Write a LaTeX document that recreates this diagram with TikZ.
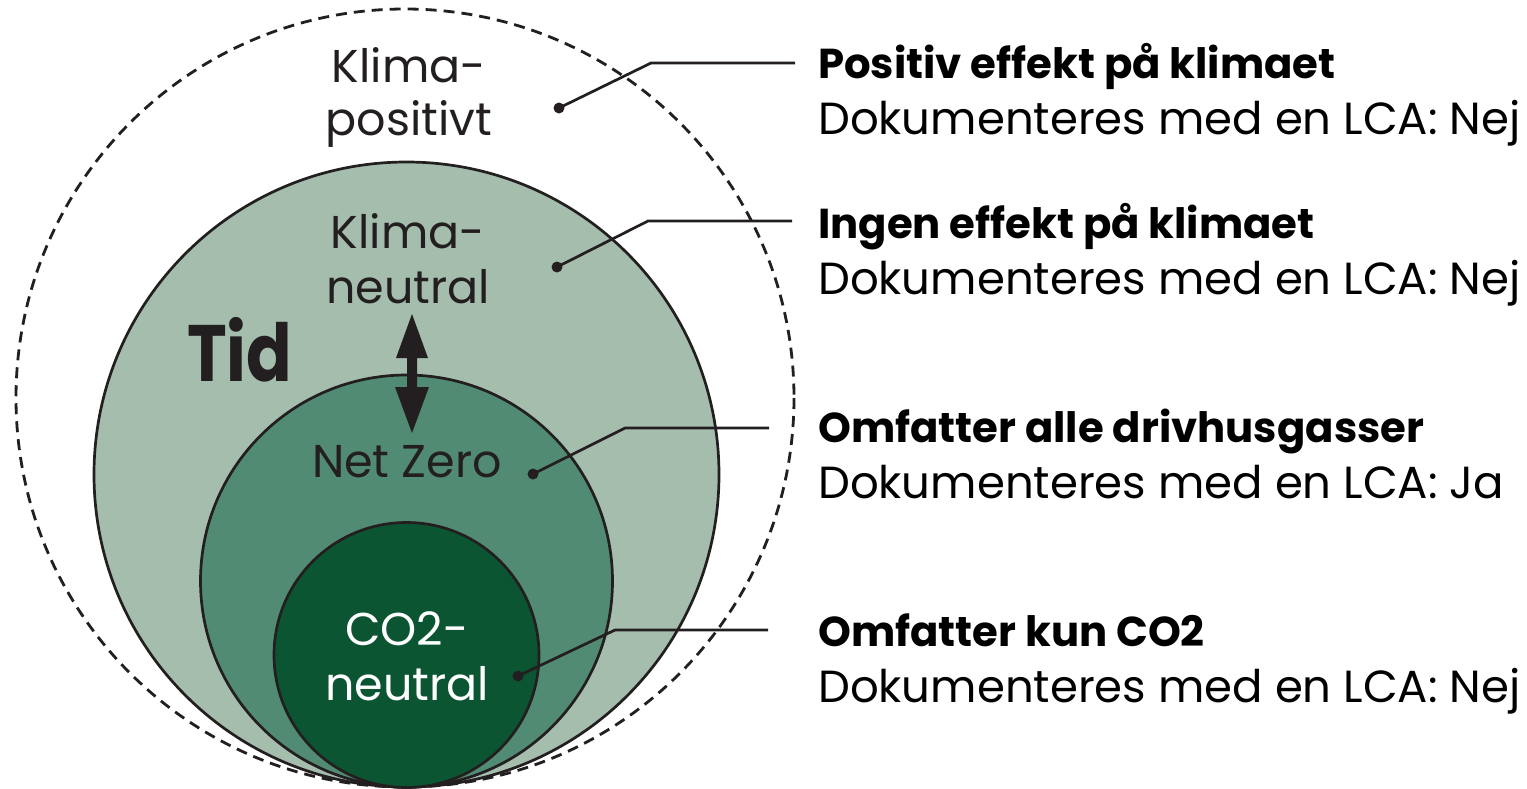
\documentclass[tikz,border=0pt]{standalone}
\usepackage{fontspec}
\setmainfont{Poppins}
\definecolor{ink}{HTML}{231F20}
\definecolor{lightg}{HTML}{A4BDAD}
\definecolor{midg}{HTML}{528B73}
\definecolor{darkg}{HTML}{0C5533}
\tikzset{
  ring/.style={draw=ink, line width=2.7pt},
  lbl/.style={anchor=base, inner sep=0pt, font=\fontsize{46}{54}\selectfont, text=ink},
  head/.style={anchor=base west, inner sep=0pt, font=\fontsize{41.8}{50}\selectfont\bfseries, text=black},
  body/.style={anchor=base west, inner sep=0pt, font=\fontsize{45}{54}\selectfont, text=black},
  leader/.style={draw=ink, line width=2.7pt},
  dotmark/.style={fill=ink}
}
\begin{document}
\begin{tikzpicture}[x=1pt,y=-1pt]
\useasboundingbox (0,0) rectangle (1527,788);
% circles
\draw[ink, line width=2.8pt, dash pattern=on 11pt off 7pt] (405,398) circle[radius=389];
\path[ring, fill=lightg] (406.5,474.5) circle[radius=312.5];
\path[ring, fill=midg] (406.5,581) circle[radius=206];
\path[ring, fill=darkg] (406.5,655) circle[radius=132.5];
% circle labels
\node[lbl] (kp1) at (409,82) {Klima-};
\node[lbl] (kp2) at (409,135) {positivt};
\node[lbl] (kn1) at (408,248) {Klima-};
\node[lbl] (kn2) at (408,303) {neutral};
\node[lbl] (nz) at (407,477) {Net Zero};
\node[lbl, text=white] (co1) at (407,645) {CO2-};
\node[lbl, text=white] (co2) at (407,700) {neutral};
\node[anchor=base west, inner sep=0pt, font=\fontsize{80}{90}\selectfont\bfseries, text=ink] (tid) at (187,381) {\scalebox{0.84}[1]{Tid}};
% double arrow
\fill[ink] (412,314) -- (396,358) -- (407,358) -- (407,387) -- (395,387) -- (412,433)
  -- (429,387) -- (417,387) -- (417,358) -- (428,358) -- cycle;
% leaders
\coordinate (d1) at (559,108); \coordinate (b1) at (651,63); \coordinate (e1) at (795,63);
\coordinate (d2) at (557,267); \coordinate (b2) at (648,221); \coordinate (e2) at (792,221);
\coordinate (d3) at (533,474); \coordinate (b3) at (625,428); \coordinate (e3) at (769,428);
\coordinate (d4) at (518,676); \coordinate (b4) at (615,630); \coordinate (e4) at (768,630);
\foreach \i in {1,2,3,4}{
  \draw[leader] (d\i) -- (b\i) -- (e\i);
  \fill[dotmark] (d\i) circle[radius=5.5];
}
% right text
\node[head] (h1) at (818,78) {Positiv effekt på klimaet};
\node[body] (t1) at (818,134) {Dokumenteres med en LCA: Nej};
\node[head] (h2) at (818,238) {Ingen effekt på klimaet};
\node[body] (t2) at (818,294) {Dokumenteres med en LCA: Nej};
\node[head] (h3) at (818,442) {Omfatter alle drivhusgasser};
\node[body] (t3) at (818,498) {Dokumenteres med en LCA: Ja};
\node[head] (h4) at (818,646) {Omfatter kun CO2};
\node[body] (t4) at (818,702) {Dokumenteres med en LCA: Nej};
\end{tikzpicture}
\end{document}
